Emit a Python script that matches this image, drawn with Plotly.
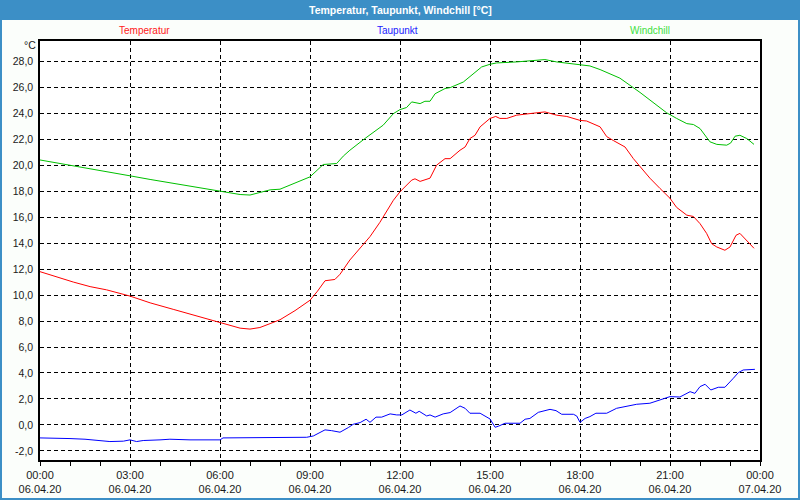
import pandas as pd
import plotly.graph_objects as go

# ---------------- data (hours after 06.04.20 00:00, °C) ----------------
temp_h = [0.00, 0.33, 0.67, 1.11, 1.67, 2.22, 3.00, 3.67, 4.44, 5.22, 6.00, 6.67, 7.00, 7.33,
          7.67, 8.00, 8.50, 9.00, 9.25, 9.50, 9.83, 10.00, 10.33, 10.67, 11.00, 11.33, 11.78,
          12.00, 12.39, 12.50, 12.67, 13.00, 13.22, 13.50, 13.67, 14.00, 14.17, 14.33, 14.50,
          14.67, 15.00, 15.19, 15.33, 15.56, 15.89, 16.44, 16.83, 17.22, 17.56, 18.00, 18.22,
          18.67, 18.89, 19.11, 19.50, 19.78, 20.33, 20.67, 21.00, 21.22, 21.56, 21.78, 22.00,
          22.22, 22.39, 22.56, 22.83, 23.00, 23.20, 23.33, 23.56, 23.80]
temp_v = [11.80, 11.55, 11.35, 11.00, 10.65, 10.40, 9.92, 9.40, 8.90, 8.38, 7.90, 7.45, 7.38, 7.50,
          7.80, 8.10, 8.80, 9.60, 10.30, 11.10, 11.20, 11.60, 12.70, 13.60, 14.50, 15.60, 17.30,
          17.95, 18.85, 18.95, 18.75, 19.00, 20.00, 20.50, 20.50, 21.15, 21.40, 22.05, 22.30,
          22.95, 23.60, 23.75, 23.60, 23.60, 23.85, 24.00, 24.10, 23.85, 23.75, 23.45, 23.40,
          22.95, 22.20, 21.90, 21.40, 20.50, 19.00, 18.20, 17.45, 16.75, 16.15, 16.05, 15.50,
          14.75, 13.95, 13.70, 13.45, 13.70, 14.60, 14.75, 14.20, 13.60]

dew_h = [0.00, 0.67, 1.00, 1.50, 2.00, 2.33, 2.78, 3.00, 3.22, 3.44, 4.00, 4.33, 5.00, 6.00,
         6.10, 7.00, 8.00, 8.89, 9.11, 9.33, 9.50, 9.72, 10.00, 10.28, 10.44, 10.67, 10.87,
         11.00, 11.20, 11.39, 11.67, 11.89, 12.06, 12.33, 12.53, 12.64, 12.89, 13.00, 13.17,
         13.44, 13.67, 14.00, 14.17, 14.33, 14.67, 15.00, 15.17, 15.28, 15.50, 16.00, 16.17,
         16.33, 16.61, 17.00, 17.20, 17.39, 17.78, 17.89, 18.00, 18.17, 18.33, 18.53, 18.89,
         19.22, 19.56, 19.89, 20.33, 20.67, 21.00, 21.33, 21.67, 21.83, 22.00, 22.17, 22.36,
         22.61, 22.83, 23.11, 23.28, 23.44, 23.83]
dew_v = [-1.00, -1.00, -1.05, -1.10, -1.20, -1.28, -1.25, -1.15, -1.28, -1.20, -1.15, -1.10,
         -1.15, -1.15, -1.00, -1.00, -0.95, -0.95, -0.85, -0.60, -0.38, -0.44, -0.56, -0.20,
         0.05, 0.18, 0.44, 0.20, 0.60, 0.60, 0.85, 0.77, 0.77, 1.15, 0.90, 1.05, 0.69, 0.77,
         0.60, 0.85, 0.95, 1.46, 1.28, 0.90, 0.90, 0.46, -0.18, -0.10, 0.13, 0.13, 0.44, 0.50,
         0.97, 1.20, 1.10, 0.82, 0.82, 0.69, 0.20, 0.50, 0.64, 0.90, 0.90, 1.28, 1.41, 1.59,
         1.67, 1.92, 2.18, 2.15, 2.56, 2.43, 2.95, 3.13, 2.69, 2.90, 2.90, 3.59, 4.03, 4.23, 4.28]

wind_h = [0.00, 0.56, 1.11, 1.67, 2.22, 3.00, 3.67, 4.44, 5.22, 6.00, 6.67, 7.00, 7.33, 7.67,
          8.00, 8.56, 9.00, 9.44, 9.89, 10.11, 10.33, 10.83, 11.44, 11.78, 12.00, 12.22, 12.39,
          12.67, 12.83, 13.00, 13.17, 13.50, 13.67, 14.11, 14.44, 14.72, 15.00, 15.22, 15.89,
          16.33, 16.83, 17.22, 18.00, 18.33, 18.67, 19.33, 20.00, 20.33, 20.89, 21.22, 21.56,
          21.78, 22.00, 22.33, 22.56, 22.89, 23.02, 23.17, 23.33, 23.56, 23.80]
wind_v = [20.40, 20.18, 19.95, 19.70, 19.54, 19.18, 18.90, 18.60, 18.25, 17.95, 17.74, 17.70,
          17.90, 18.10, 18.15, 18.70, 19.10, 20.05, 20.13, 20.70, 21.15, 22.05, 23.08, 23.97,
          24.28, 24.44, 24.87, 24.74, 24.92, 24.92, 25.50, 25.90, 25.97, 26.40, 27.00, 27.56,
          27.77, 27.87, 27.95, 28.02, 28.13, 27.95, 27.70, 27.64, 27.36, 26.70, 25.60, 25.00,
          24.03, 23.60, 23.20, 23.13, 22.82, 21.80, 21.60, 21.54, 21.70, 22.23, 22.30, 22.05,
          21.60]

series_names = ["Temperatur", "Taupunkt", "Windchill"]
y_ticks = [-2, 0, 2, 4, 6, 8, 10, 12, 14, 16, 18, 20, 22, 24, 26, 28]
y_ticktext = [f"{v:.1f}".replace(".", ",") for v in y_ticks]
title_text = "Temperatur, Taupunkt, Windchill [°C]"
unit_text = "°C"

# ---------------- layout constants ----------------
W, H = 800, 500
ML, MR, MT, MB = 40, 40, 41, 40
PW, PH = W - ML - MR, H - MT - MB
BLUE = "#3c8fc6"
FONT = "Liberation Sans"


def px(xp):
    return (xp - ML) / PW


def py(yp):
    return 1 - (yp - MT) / PH


base = pd.Timestamp("2020-04-06 00:00")


def to_time(hours):
    return base + pd.to_timedelta(hours, unit="h")


fig = go.Figure()
fig.add_trace(go.Scatter(x=to_time(temp_h), y=temp_v, mode="lines", name=series_names[0],
                         line=dict(color="#ff0000", width=1)))
fig.add_trace(go.Scatter(x=to_time(dew_h), y=dew_v, mode="lines", name=series_names[1],
                         line=dict(color="#0000ff", width=1)))
fig.add_trace(go.Scatter(x=to_time(wind_h), y=wind_v, mode="lines", name=series_names[2],
                         line=dict(color="#00c000", width=1)))

fig.update_layout(
    width=W, height=H,
    margin=dict(l=ML, r=MR, t=MT, b=MB, pad=0),
    paper_bgcolor="#fbfefb",
    plot_bgcolor="#ffffff",
    showlegend=False,
    font=dict(family=FONT, size=10, color="#1a1a1a"),
)

fig.update_xaxes(
    type="date",
    automargin=False,
    range=[base, base + pd.Timedelta(hours=24)],
    tick0=base, dtick=3 * 3600 * 1000,
    tickformat="%H:%M<br>%d.%m.%y",
    ticks="outside", ticklen=4, tickcolor="#000000", tickwidth=1,
    minor=dict(dtick=3600 * 1000, ticks="outside", ticklen=4, tickcolor="#000000",
               showgrid=False),
    showgrid=True, gridcolor="#000000", gridwidth=1, griddash="4px,3px",
    showline=True, linecolor="#000000", linewidth=1.5, mirror=True,
    zeroline=False,
    tickfont=dict(family=FONT, size=11, color="#1a1a1a"),
)
fig.update_yaxes(
    automargin=False,
    range=[-2.7, 29.56],
    tickvals=y_ticks, ticktext=y_ticktext,
    ticks="", ticklabelstandoff=3,
    showgrid=True, gridcolor="#000000", gridwidth=1, griddash="4px,3px",
    showline=True, linecolor="#000000", linewidth=1.5, mirror=True,
    zeroline=False,
    tickfont=dict(family=FONT, size=10.5, color="#1a1a1a"),
)

# title bar and outer frame
fig.add_shape(type="rect", xref="paper", yref="paper",
              x0=px(0), x1=px(W), y0=py(20), y1=py(0),
              fillcolor=BLUE, line=dict(width=0), layer="below")
fig.add_shape(type="rect", xref="paper", yref="paper",
              x0=px(1), x1=px(W - 1), y0=py(H - 1), y1=py(1),
              fillcolor="rgba(0,0,0,0)", line=dict(color=BLUE, width=2))

fig.add_annotation(text=f"<b>{title_text}</b>", xref="paper", yref="paper",
                   x=px(400), y=py(10), showarrow=False, xanchor="center", yanchor="middle",
                   font=dict(family=FONT, size=10.5, color="#ffffff"))

legend_colors = ["#ff2020", "#2020ff", "#40e040"]
legend_x = [144, 397, 650]
for name, col, lx in zip(series_names, legend_colors, legend_x):
    fig.add_annotation(text=name, xref="paper", yref="paper", x=px(lx), y=py(31),
                       showarrow=False, xanchor="center", yanchor="middle",
                       font=dict(family=FONT, size=10, color=col))

fig.add_annotation(text=unit_text, xref="paper", yref="paper", x=px(38), y=py(45),
                   showarrow=False, xanchor="right", yanchor="middle",
                   font=dict(family=FONT, size=10.5, color="#1a1a1a"))

fig.write_html("out.html")
